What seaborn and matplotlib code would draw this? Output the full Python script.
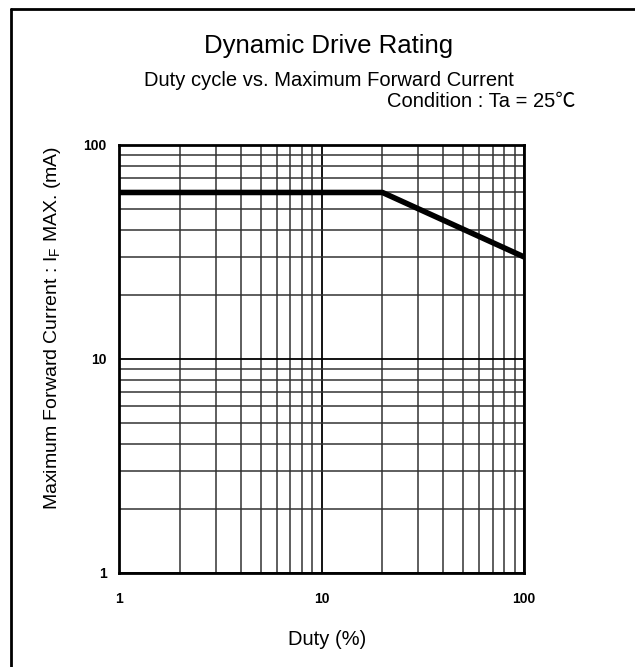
import numpy as np
import pandas as pd
import matplotlib.pyplot as plt
import seaborn as sns
from matplotlib.ticker import LogLocator, NullFormatter, FixedLocator, FixedFormatter

# Duty cycle vs max forward current (derating curve)
duty = [1, 20, 100]
if_max = [60, 60, 30]
x_ticks = [1, 10, 100]
x_labels = ['1', '10', '100']
y_ticks = [1, 10, 100]
y_labels = ['1', '10', '100']

sns.set_style('white')
plt.rcParams['font.family'] = ['Liberation Sans', 'Noto Sans CJK JP', 'DejaVu Sans']
plt.rcParams['text.color'] = 'black'
plt.rcParams['axes.labelcolor'] = 'black'
plt.rcParams['xtick.color'] = 'black'
plt.rcParams['ytick.color'] = 'black'
plt.rcParams['mathtext.fontset'] = 'custom'
plt.rcParams['mathtext.rm'] = 'Liberation Sans'

df = pd.DataFrame({'duty': duty, 'if_max': if_max})

fig = plt.figure(figsize=(6.35, 6.67), dpi=100)
ax = fig.add_axes([119 / 635, 1 - 573 / 667, 405 / 635, 428 / 667])

sns.lineplot(data=df, x='duty', y='if_max', color='black', linewidth=4, ax=ax)
ax.set_xscale('log')
ax.set_yscale('log')
ax.set_xlim(1, 100)
ax.set_ylim(1, 100)

# grid like the datasheet paper
ax.xaxis.set_minor_locator(LogLocator(base=10, subs=np.arange(2, 10)))
ax.yaxis.set_minor_locator(LogLocator(base=10, subs=np.arange(2, 10)))
ax.xaxis.set_minor_formatter(NullFormatter())
ax.yaxis.set_minor_formatter(NullFormatter())
ax.grid(True, which='major', color='black', linewidth=1.3)
ax.grid(True, which='minor', color='#333333', linewidth=1.1)

ax.xaxis.set_major_locator(FixedLocator(x_ticks))
ax.xaxis.set_major_formatter(FixedFormatter(x_labels))
ax.yaxis.set_major_locator(FixedLocator(y_ticks))
ax.yaxis.set_major_formatter(FixedFormatter(y_labels))
ax.tick_params(which='both', length=0)
ax.tick_params(axis='x', pad=14)
ax.tick_params(axis='y', pad=9)
for lab in ax.get_xticklabels() + ax.get_yticklabels():
    lab.set_family(['Liberation Sans Narrow', 'Liberation Sans'])
    lab.set_fontweight('bold')
    lab.set_fontsize(10)

for s in ax.spines.values():
    s.set_color('black')
    s.set_linewidth(2)

ax.set_xlabel('Duty (%)', fontsize=14.5)
ax.xaxis.set_label_coords((327 - 119) / 405, -(630 - 573) / 428)
ax.set_ylabel(r'Maximum Forward Current : I$_\mathregular{F}$ MAX. (mA)', fontsize=14)
ax.yaxis.set_label_coords(-(119 - 63) / 405, (573 - 328) / 428)

fig.text(329 / 635, 1 - 53 / 667, 'Dynamic Drive Rating', ha='center', va='baseline', fontsize=18.5)
fig.text(329 / 635, 1 - 86 / 667, 'Duty cycle vs. Maximum Forward Current', ha='center', va='baseline', fontsize=14.5)
fig.text(575 / 635, 1 - 107 / 667, 'Condition : Ta = 25℃', ha='right', va='baseline', fontsize=14.5)

# frame lines (top and left) of the original picture
fig.add_artist(plt.Line2D([11 / 635, 1], [1 - 9 / 667, 1 - 9 / 667], color='black', linewidth=2, transform=fig.transFigure))
fig.add_artist(plt.Line2D([11 / 635, 11 / 635], [0, 1 - 9 / 667], color='black', linewidth=2, transform=fig.transFigure))

fig.savefig('out.png', dpi=100)
